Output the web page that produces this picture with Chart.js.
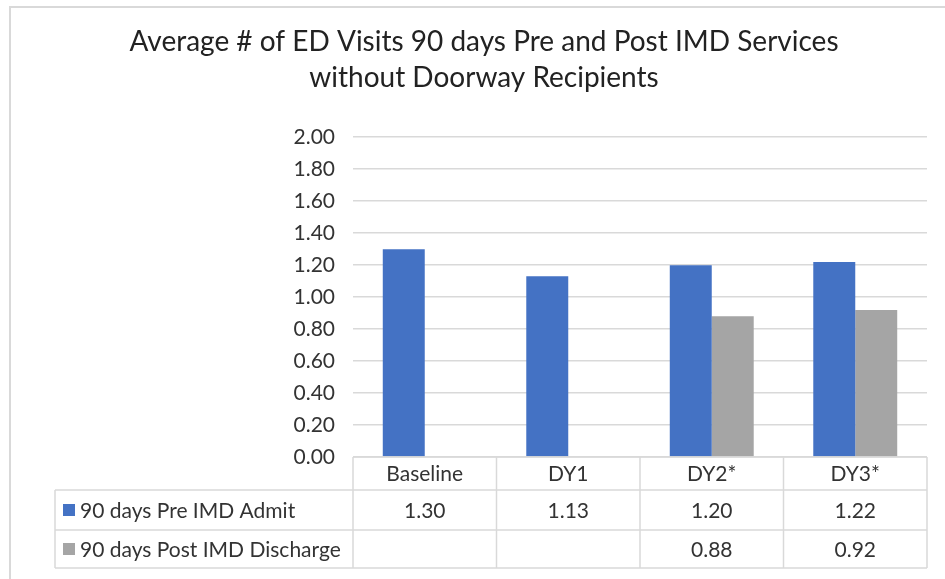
<!DOCTYPE html>
<html>
<head>
<meta charset="utf-8">
<script src="https://cdn.jsdelivr.net/npm/chart.js@4"></script>
<style>
  html, body { margin: 0; padding: 0; background: #fff; }
  #wrap { width: 945px; height: 579px; position: relative; }
</style>
</head>
<body>
<div id="wrap"><canvas id="myChart" width="945" height="579"></canvas></div>
<script>
const titleLines = ['Average # of ED Visits 90 days Pre and Post IMD Services', 'without Doorway Recipients']
const categories = ['Baseline', 'DY1', 'DY2*', 'DY3*']
const seriesNames = ['90 days Pre IMD Admit', '90 days Post IMD Discharge']
const preAdmit = [1.30, 1.13, 1.20, 1.22]
const postDischarge = [null, null, 0.88, 0.92]
const seriesColors = ['#4472C4', '#A5A5A5']

const fontFamily = 'Lato, "Open Sans", sans-serif'
const textColor = '#333'
const lineColor = '#d9d9d9'

// frame round the whole chart (only top and left edge show in the original)
const framePlugin = {
    id: 'frame',
    beforeDraw(chart) {
        const ctx = chart.ctx
        ctx.save()
        ctx.strokeStyle = lineColor
        ctx.lineWidth = 2
        ctx.beginPath()
        ctx.moveTo(10, 579)
        ctx.lineTo(10, 7)
        ctx.lineTo(945, 7)
        ctx.stroke()
        ctx.restore()
    }
}

// data table under the plot, lined up with the x scale
const tablePlugin = {
    id: 'dataTable',
    afterDraw(chart) {
        const ctx = chart.ctx
        const xs = chart.scales.x
        const area = chart.chartArea
        const left = 55
        const rows = [area.bottom, 490, 530, 568]
        const step = (area.right - area.left) / categories.length
        ctx.save()
        ctx.strokeStyle = lineColor
        ctx.lineWidth = 1.5
        ctx.beginPath()
        // horizontal lines
        ctx.moveTo(area.left, rows[0]); ctx.lineTo(area.right, rows[0])
        for (let r = 1; r < rows.length; r++) {
            ctx.moveTo(left, rows[r]); ctx.lineTo(area.right, rows[r])
        }
        // vertical lines
        ctx.moveTo(left, rows[1]); ctx.lineTo(left, rows[3])
        for (let i = 0; i <= categories.length; i++) {
            const x = area.left + step * i
            ctx.moveTo(x, rows[0]); ctx.lineTo(x, rows[3])
        }
        ctx.stroke()

        ctx.fillStyle = textColor
        ctx.font = '21px ' + fontFamily
        ctx.textBaseline = 'middle'
        ctx.textAlign = 'center'
        categories.forEach((c, i) => {
            ctx.fillText(c, xs.getPixelForValue(i), (rows[0] + rows[1]) / 2 + 1)
        })
        const seriesData = [preAdmit, postDischarge]
        seriesData.forEach((vals, s) => {
            const yMid = (rows[s + 1] + rows[s + 2]) / 2
            ctx.fillStyle = seriesColors[s]
            ctx.fillRect(left + 8, yMid - 6, 12, 12)
            ctx.fillStyle = textColor
            ctx.textAlign = 'left'
            ctx.fillText(seriesNames[s], left + 25, yMid + 1)
            ctx.textAlign = 'center'
            vals.forEach((v, i) => {
                if (v !== null) ctx.fillText(v.toFixed(2), xs.getPixelForValue(i), yMid + 1)
            })
        })
        ctx.restore()
    }
}

const ctx = document.getElementById('myChart')
const myChart = new Chart(ctx, {
    type: 'bar',
    data: {
        labels: categories,
        datasets: [
            { label: seriesNames[0], data: preAdmit, backgroundColor: seriesColors[0] },
            { label: seriesNames[1], data: postDischarge, backgroundColor: seriesColors[1] }
        ]
    },
    options: {
        responsive: false,
        animation: false,
        layout: { padding: { left: 41, right: 18, top: 0, bottom: 122 } },
        datasets: { bar: { barPercentage: 1, categoryPercentage: 0.585 } },
        plugins: {
            legend: { display: false },
            tooltip: { enabled: false },
            title: {
                display: true,
                text: titleLines,
                color: '#222',
                font: { family: fontFamily, size: 28, weight: 'normal', lineHeight: 1.29 },
                padding: { top: 24, bottom: 41 }
            }
        },
        scales: {
            x: { display: false },
            y: {
                min: 0,
                max: 2,
                afterFit(scale) { scale.width = 312 },
                border: { display: false },
                grid: { color: lineColor, lineWidth: 1.5, drawTicks: false },
                ticks: {
                    stepSize: 0.2,
                    padding: 18,
                    color: textColor,
                    font: { family: fontFamily, size: 21 },
                    callback: v => v.toFixed(2)
                }
            }
        }
    },
    plugins: [framePlugin, tablePlugin]
})
</script>
</body>
</html>
